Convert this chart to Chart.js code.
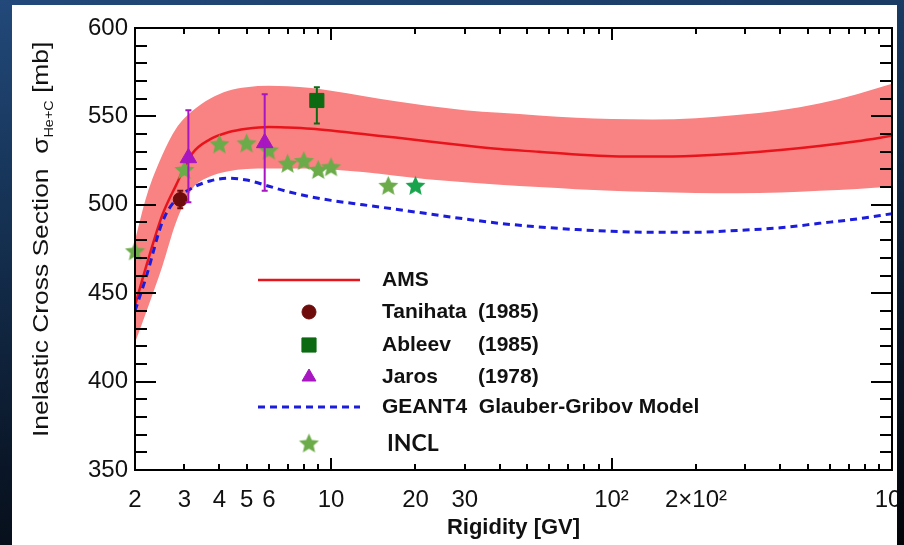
<!doctype html>
<html lang="en">
<head>
<meta charset="utf-8">
<title>He+C inelastic cross section</title>
<script src="https://cdn.jsdelivr.net/npm/chart.js"></script>
<style>
  html, body { margin: 0; padding: 0; }
  body {
    width: 904px; height: 545px; overflow: hidden; position: relative;
    background: linear-gradient(172deg, #22497a 0%, #163356 30%, #0a1627 70%, #020408 100%);
  }
  .panel {
    position: absolute; left: 12px; top: 5px; width: 885px; height: 540px;
    background: #fff; overflow: hidden;
  }
  .panel canvas { position: absolute; left: -12px; top: -5px; }
</style>
</head>
<body>
<div class="panel"><canvas id="xsec" width="904" height="545"></canvas></div>
<script>
// rigidity grid for the AMS fit, its uncertainty band and the GEANT4 model
const rigidity = [2, 2.2, 2.5, 2.8, 3.2, 3.7, 4.3, 5, 6, 7, 8.5, 10, 13, 17, 22, 30, 40, 55, 75, 100, 140, 200, 280, 400, 550, 750, 1000];
const amsFit   = [443, 466, 494, 511, 529, 537, 541, 543, 544, 543.7, 543, 542, 540, 538, 536, 533.5, 531.5, 530, 528.5, 527.5, 527.3, 527.8, 529, 531, 533.3, 536, 539];
const amsUpper = [480, 505, 528, 543, 553, 560, 564.5, 566.5, 567.3, 567, 566, 564.5, 561.5, 558.5, 556, 553.5, 552, 550.5, 549.3, 548.5, 548.3, 549, 550.8, 553.5, 557.3, 562.5, 568.4];
const amsLower = [422, 440, 465, 490, 509, 516, 519, 520.3, 520.5, 520.6, 520.5, 520, 518.5, 516.5, 514.5, 512.8, 511.3, 510, 508.8, 508, 507.2, 506.7, 506.6, 507, 508, 509, 510.3];
const geant4   = [440, 460, 490, 503, 509.5, 513.5, 515, 514, 510.5, 507.5, 504.5, 502.5, 500, 497.5, 495, 492, 489.5, 487.5, 486, 485, 484.5, 484.5, 485.5, 487, 489.5, 492, 495];

// INCL calculation
const inclR  = [2, 3, 4, 5, 6, 7, 8, 9, 10, 16, 20];
const inclXs = [474, 520, 534.5, 535, 531, 523.5, 525, 520, 521.5, 511, 511];

// measurements
const tanihataR = [2.9],  tanihataXs = [503],   tanihataLow = [498],  tanihataHigh = [508];
const ableevR   = [8.9],  ableevXs   = [559],   ableevLow   = [546],  ableevHigh   = [566.5];
const jarosR    = [3.1, 5.8], jarosXs = [526.5, 535], jarosLow = [501.5, 508], jarosHigh = [553.5, 562.5];

const xTickValues = [2, 3, 4, 5, 6, 10, 20, 30, 100, 200, 1000];
const xTickLabels = ['2', '3', '4', '5', '6', '10', '20', '30', '10²', '2×10²', '10³'];

const FONT = '"Liberation Sans", Arial, Helvetica, sans-serif';
const pts = (xs, ys) => xs.map((x, i) => ({ x, y: ys[i] }));

function starImage(color, r) {
  const c = document.createElement('canvas');
  c.width = c.height = Math.ceil(r * 2 + 2);
  const g = c.getContext('2d');
  g.translate(c.width / 2, c.height / 2 + 1);
  g.beginPath();
  for (let i = 0; i < 10; i++) {
    const rad = i % 2 ? r * 0.46 : r;
    const a = -Math.PI / 2 + i * Math.PI / 5;
    g.lineTo(rad * Math.cos(a), rad * Math.sin(a));
  }
  g.closePath();
  g.fillStyle = color;
  g.fill();
  return c;
}
const starInc = starImage('#6cab4a', 10.5);
const starAlt = starImage('#17a44c', 10.5);

// inward ticks on all four sides plus the box
const frame = {
  id: 'frame',
  afterDatasetsDraw(chart) {
    const { ctx, chartArea: a, scales: { x, y } } = chart;
    ctx.save();
    ctx.strokeStyle = '#000';
    ctx.lineWidth = 2;
    ctx.beginPath();
    for (let v = y.min + 10; v < y.max; v += 10) {
      const py = Math.round(y.getPixelForValue(v));
      const len = v % 50 === 0 ? 21 : 12;
      ctx.moveTo(a.left, py); ctx.lineTo(a.left + len, py);
      ctx.moveTo(a.right, py); ctx.lineTo(a.right - len, py);
    }
    for (let dec = 1; dec <= 100; dec *= 10) {
      for (let m = 1; m <= 9; m++) {
        const v = m * dec;
        if (v <= x.min || v >= x.max) continue;
        const px = Math.round(x.getPixelForValue(v));
        const len = m === 1 ? 12 : 6;
        ctx.moveTo(px, a.bottom); ctx.lineTo(px, a.bottom - len);
        ctx.moveTo(px, a.top); ctx.lineTo(px, a.top + len);
      }
    }
    ctx.stroke();
    ctx.strokeRect(a.left, a.top, a.right - a.left, a.bottom - a.top);
    ctx.restore();
  }
};

// vertical error bars from errLow / errHigh on a dataset
const errorBars = {
  id: 'errorBars',
  afterDatasetsDraw(chart) {
    const { ctx, scales: { x, y } } = chart;
    chart.data.datasets.forEach(ds => {
      if (!ds.errLow) return;
      ctx.save();
      ctx.strokeStyle = ds.pointBackgroundColor;
      ctx.lineWidth = 2;
      ds.data.forEach((p, i) => {
        const px = x.getPixelForValue(p.x);
        const lo = y.getPixelForValue(ds.errLow[i]);
        const hi = y.getPixelForValue(ds.errHigh[i]);
        ctx.beginPath();
        ctx.moveTo(px, lo); ctx.lineTo(px, hi);
        ctx.moveTo(px - 3, lo); ctx.lineTo(px + 3, lo);
        ctx.moveTo(px - 3, hi); ctx.lineTo(px + 3, hi);
        ctx.stroke();
      });
      ctx.restore();
    });
  }
};

// legend box inside the plot area
const legendBox = {
  id: 'legendBox',
  afterDraw(chart) {
    const ctx = chart.ctx;
    const ds = chart.data.datasets;
    const rows = [
      { y: 280, ds: 2, kind: 'line', text: 'AMS' },
      { y: 312, ds: 5, kind: 'point', text: 'Tanihata', year: '(1985)' },
      { y: 345, ds: 6, kind: 'point', text: 'Ableev', year: '(1985)' },
      { y: 377, ds: 7, kind: 'point', text: 'Jaros', year: '(1978)' },
      { y: 407, ds: 3, kind: 'line', text: 'GEANT4  Glauber-Gribov Model' },
      { y: 443, ds: 4, kind: 'star', text: 'INCL' }
    ];
    ctx.save();
    ctx.fillStyle = '#111';
    ctx.textBaseline = 'middle';
    rows.forEach(r => {
      const d = ds[r.ds];
      if (r.kind === 'line') {
        ctx.save();
        ctx.strokeStyle = d.borderColor;
        ctx.lineWidth = d.borderWidth;
        ctx.setLineDash(d.borderDash || []);
        ctx.beginPath();
        ctx.moveTo(258, r.y); ctx.lineTo(360, r.y);
        ctx.stroke();
        ctx.restore();
      } else if (r.kind === 'point') {
        ctx.save();
        ctx.fillStyle = d.pointBackgroundColor;
        ctx.strokeStyle = d.pointBackgroundColor;
        Chart.helpers.drawPoint(ctx, { pointStyle: d.pointStyle, radius: d.pointStyle === 'triangle' ? 8 : d.pointRadius, rotation: 0, borderWidth: 1 }, 309, r.y);
        ctx.restore();
      } else {
        ctx.drawImage(starInc, 309 - starInc.width / 2, r.y - starInc.height / 2);
      }
      if (r.kind === 'star') {
        ctx.font = 'bold 23px Lato, "Open Sans", sans-serif';
        ctx.fillText(r.text, 387, r.y + 1);
      } else {
        ctx.font = 'bold 21px ' + FONT;
        ctx.fillText(r.text, 382, r.y);
        if (r.year) ctx.fillText(r.year, 478, r.y);
      }
    });
    ctx.restore();
  }
};

// rotated y title with subscript
const yTitle = {
  id: 'yTitle',
  afterDraw(chart) {
    const ctx = chart.ctx;
    ctx.save();
    ctx.translate(48, 437);
    ctx.rotate(-Math.PI / 2);
    ctx.scale(1.2, 1);
    ctx.fillStyle = '#111';
    ctx.textBaseline = 'alphabetic';
    let x = 0;
    ctx.font = '22px ' + FONT;
    const main = 'Inelastic Cross Section  σ';
    ctx.fillText(main, x, 0);
    x += ctx.measureText(main).width;
    ctx.font = '12px ' + FONT;
    ctx.fillText('He+C', x, 5);
    x += ctx.measureText('He+C').width;
    ctx.font = '22px ' + FONT;
    ctx.fillText(' [mb]', x, 0);
    ctx.restore();
  }
};

new Chart(document.getElementById('xsec'), {
  type: 'line',
  data: {
    datasets: [
      { data: pts(rigidity, amsUpper), borderWidth: 0, pointRadius: 0, fill: '+1',
        backgroundColor: '#f98282', cubicInterpolationMode: 'monotone', order: 10 },
      { data: pts(rigidity, amsLower), borderWidth: 0, pointRadius: 0, fill: false,
        cubicInterpolationMode: 'monotone', order: 10 },
      { label: 'AMS', data: pts(rigidity, amsFit), borderColor: '#e8141b', borderWidth: 2.5,
        pointRadius: 0, fill: false, cubicInterpolationMode: 'monotone', order: 5 },
      { label: 'GEANT4', data: pts(rigidity, geant4), borderColor: '#1c1cdc', borderWidth: 3,
        borderDash: [7, 5], pointRadius: 0, fill: false, cubicInterpolationMode: 'monotone', order: 4 },
      { label: 'INCL', data: pts(inclR, inclXs), showLine: false, pointRadius: 10,
        pointStyle: inclR.map(r => r === 20 ? starAlt : starInc), clip: false, order: 3 },
      { label: 'Tanihata', data: pts(tanihataR, tanihataXs), showLine: false, pointStyle: 'circle',
        pointRadius: 7, pointBackgroundColor: '#6e0b0b', pointBorderColor: '#6e0b0b',
        errLow: tanihataLow, errHigh: tanihataHigh, order: 2 },
      { label: 'Ableev', data: pts(ableevR, ableevXs), showLine: false, pointStyle: 'rect',
        pointRadius: 10, pointBackgroundColor: '#0c6a12', pointBorderColor: '#0c6a12',
        errLow: ableevLow, errHigh: ableevHigh, order: 1 },
      { label: 'Jaros', data: pts(jarosR, jarosXs), showLine: false, pointStyle: 'triangle',
        pointRadius: 9.5, pointBackgroundColor: '#a716c0', pointBorderColor: '#a716c0',
        errLow: jarosLow, errHigh: jarosHigh, order: 1 }
    ]
  },
  options: {
    responsive: false,
    animation: false,
    layout: { padding: { top: 28, right: 12, left: 0, bottom: 0 } },
    plugins: { legend: { display: false }, tooltip: { enabled: false } },
    scales: {
      x: {
        type: 'logarithmic', min: 2, max: 1000,
        grid: { display: false, drawTicks: false }, border: { display: false },
        afterBuildTicks: s => { s.ticks = xTickValues.map(v => ({ value: v })); },
        afterFit: s => { s.height = 75; s.paddingLeft = 0; s.paddingRight = 0; },
        ticks: { autoSkip: false, maxRotation: 0, padding: 16, color: '#111',
          font: { family: FONT, size: 24 }, callback: (v, i) => xTickLabels[i] },
        title: { display: true, text: 'Rigidity [GV]', color: '#111',
          font: { family: FONT, size: 22, weight: 'bold' }, padding: { top: 0, bottom: 4 } }
      },
      y: {
        min: 350, max: 600,
        grid: { display: false, drawTicks: false }, border: { display: false },
        afterFit: s => { s.width = 135; },
        ticks: { stepSize: 50, padding: 7, color: '#111', font: { family: FONT, size: 24 } }
      }
    }
  },
  plugins: [frame, errorBars, legendBox, yTitle]
});
</script>
</body>
</html>
